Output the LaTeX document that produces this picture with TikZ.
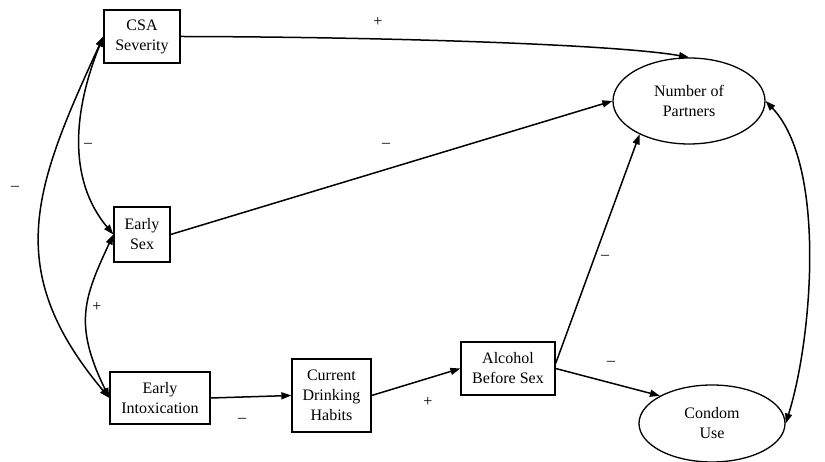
\documentclass[tikz,border=0pt]{standalone}
\usepackage{fontspec}
\setmainfont{Liberation Serif}
\usetikzlibrary{arrows.meta,shapes.geometric}
\begin{document}
\begin{tikzpicture}[x=1pt,y=1pt,
  txt/.style={font=\fontsize{16}{20}\selectfont},
  boxnode/.style={txt, draw, line width=1.3pt, align=center, inner sep=0pt},
  ovalnode/.style={txt, draw, ellipse, line width=1.3pt, align=center, inner sep=0pt},
  tipA/.tip={Triangle[length=10pt,width=7pt]},
  link/.style={line width=1.5pt, -tipA},
  dlink/.style={line width=1.5pt, tipA-tipA},
  sign/.style={txt, inner sep=0pt}]
\useasboundingbox (0,0) rectangle (825,462);
% nodes
\node[boxnode, minimum width=76pt, minimum height=53pt] (csa) at (142,425.5) {CSA\\Severity};
\node[boxnode, minimum width=56pt, minimum height=55pt] (es) at (142,227.5) {Early\\Sex};
\node[boxnode, minimum width=100pt, minimum height=52pt] (ei) at (160,64) {Early\\Intoxication};
\node[boxnode, minimum width=79pt, minimum height=73pt] (cdh) at (331.5,66.5) {Current\\Drinking\\Habits};
\node[boxnode, minimum width=94pt, minimum height=53pt] (abs) at (508,93.5) {Alcohol\\Before Sex};
\node[ovalnode, minimum width=152pt, minimum height=86pt] (nop) at (689,361) {Number of\\Partners};
\node[ovalnode, minimum width=146pt, minimum height=77pt] (cu) at (712,38.5) {Condom\\Use};
% directed paths
\draw[link] (csa.east) .. controls (400,425) and (620,417) .. (nop.north);
\draw[link] (es.east) -- (nop.west);
\draw[link] (ei.east) -- (cdh.west);
\draw[link] (cdh.east) -- (abs.west);
\draw[link] (abs.6) -- (nop.214);
\draw[link] (abs.east) -- (cu.152);
% correlations
\draw[dlink] (csa.west) .. controls (34.5,275.4) and (1,193) .. (ei.west);
\draw[dlink] (csa.west) .. controls (75,356) and (65.6,284.6) .. (es.west);
\draw[dlink] (es.west) .. controls (84.2,164.7) and (73.1,138) .. (ei.west);
\draw[dlink] (nop.east) .. controls (827,296.5) and (812,122) .. (cu.east);
% signs
\node[sign] (s1) at (378,440) {+};
\node[sign] (s2) at (386,317) {\textendash};
\node[sign] (s3) at (605,205) {\textendash};
\node[sign] (s4) at (611,99) {\textendash};
\node[sign] (s5) at (242,42) {\textendash};
\node[sign] (s6) at (428,60) {+};
\node[sign] (s7) at (15,274) {\textendash};
\node[sign] (s8) at (88,317) {\textendash};
\node[sign] (s9) at (97,155) {+};
\end{tikzpicture}
\end{document}
